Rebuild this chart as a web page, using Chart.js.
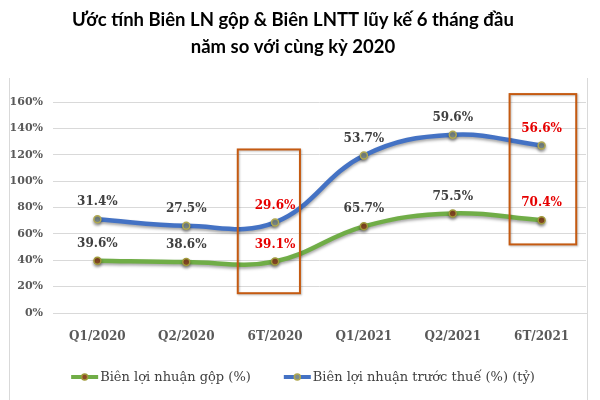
<!DOCTYPE html>
<html>
<head>
<meta charset="utf-8">
<script src="https://cdn.jsdelivr.net/npm/chart.js@4"></script>
<style>
  html, body { margin: 0; padding: 0; background: #fff; }
  #wrap { width: 600px; height: 400px; }
</style>
</head>
<body>
<div id="wrap"><canvas id="chart" width="600" height="400"></canvas></div>
<script>
  // --- Data ---
  const categories = ['Q1/2020', 'Q2/2020', '6T/2020', 'Q1/2021', 'Q2/2021', '6T/2021'];
  const grossMargin = [39.6, 38.6, 39.1, 65.7, 75.5, 70.4];     // Biên lợi nhuận gộp (%)
  const preTaxMargin = [31.4, 27.5, 29.6, 53.7, 59.6, 56.6];    // Biên lợi nhuận trước thuế (%)
  const yTicks = [0, 20, 40, 60, 80, 100, 120, 140, 160];

  // Highlighted "6T" columns get red labels and a box
  const highlight = categories.map(c => c.startsWith('6T'));
  // box ranges in data units: category index span and % span (stacked axis)
  const boxes = [
    { from: 1.58, to: 2.28, low: 15, high: 124 },
    { from: 4.64, to: 5.39, low: 52, high: 166 }
  ];

  const SERIF = "'DejaVu Serif', serif";

  // --- Plugins ---
  const framePlugin = {
    id: 'frame',
    beforeDraw(chart) {
      const ctx = chart.ctx;
      ctx.save();
      ctx.fillStyle = '#fff';
      ctx.fillRect(0, 0, chart.width, chart.height);
      ctx.strokeStyle = '#d9d9d9';
      ctx.lineWidth = 1;
      ctx.beginPath();
      ctx.moveTo(9.5, 78); ctx.lineTo(9.5, chart.height);
      ctx.moveTo(587.5, 78); ctx.lineTo(587.5, chart.height);
      ctx.stroke();
      ctx.restore();
    }
  };

  const shadowPlugin = {
    id: 'lineShadow',
    beforeDatasetDraw(chart) {
      const ctx = chart.ctx;
      ctx.save();
      ctx.shadowColor = 'rgba(0,0,0,0.35)';
      ctx.shadowBlur = 3;
      ctx.shadowOffsetY = 2;
    },
    afterDatasetDraw(chart) {
      chart.ctx.restore();
    }
  };

  const labelsPlugin = {
    id: 'valueLabels',
    afterDatasetsDraw(chart) {
      const ctx = chart.ctx;
      const x = chart.scales.x, y = chart.scales.y;

      // orange boxes
      ctx.save();
      ctx.strokeStyle = '#c55a11';
      ctx.lineWidth = 2;
      ctx.shadowColor = 'rgba(0,0,0,0.25)';
      ctx.shadowBlur = 2;
      ctx.shadowOffsetX = 1;
      ctx.shadowOffsetY = 1;
      boxes.forEach(b => {
        const l = x.getPixelForValue(b.from), r = x.getPixelForValue(b.to);
        const t = y.getPixelForValue(b.high), btm = y.getPixelForValue(b.low);
        ctx.strokeRect(l, t, r - l, btm - t);
      });
      ctx.restore();

      // value labels above points
      ctx.save();
      ctx.font = 'bold 12px ' + SERIF;
      ctx.textAlign = 'center';
      ctx.textBaseline = 'middle';
      chart.data.datasets.forEach((ds, di) => {
        const meta = chart.getDatasetMeta(di);
        meta.data.forEach((pt, i) => {
          ctx.fillStyle = highlight[i] ? '#e60000' : '#404040';
          ctx.fillText(ds.data[i].toFixed(1) + '%', pt.x, pt.y - 17);
        });
      });
      ctx.restore();
    }
  };

  // Legend drawn by hand: line-with-dot marker, text right next to it
  const legendPlugin = {
    id: 'lineLegend',
    afterDraw(chart) {
      const ctx = chart.ctx;
      const dsets = chart.data.datasets;
      const iconW = 27, gap = 2, itemGap = 33, cy = 377;
      ctx.save();
      ctx.font = '13px ' + SERIF;
      ctx.textBaseline = 'middle';
      const widths = dsets.map(ds => iconW + gap + ctx.measureText(ds.label).width);
      const total = widths.reduce((a, b) => a + b, 0) + itemGap * (dsets.length - 1);
      let cx = 303 - total / 2;
      dsets.forEach((ds, i) => {
        ctx.strokeStyle = ds.borderColor;
        ctx.lineWidth = 4;
        ctx.beginPath(); ctx.moveTo(cx, cy); ctx.lineTo(cx + iconW, cy); ctx.stroke();
        ctx.beginPath(); ctx.arc(cx + iconW / 2, cy, 3, 0, Math.PI * 2);
        ctx.fillStyle = ds.pointBackgroundColor; ctx.fill();
        ctx.lineWidth = 1.5; ctx.strokeStyle = ds.pointBorderColor; ctx.stroke();
        ctx.fillStyle = '#404040';
        ctx.fillText(ds.label, cx + iconW + gap, cy + 1);
        cx += widths[i] + itemGap;
      });
      ctx.restore();
    }
  };

  // --- Chart ---
  const ctx = document.getElementById('chart').getContext('2d');
  new Chart(ctx, {
    type: 'line',
    data: {
      labels: categories,
      datasets: [
        {
          label: 'Biên lợi nhuận gộp (%)',
          data: grossMargin,
          borderColor: '#70ad47',
          borderWidth: 4.5,
          tension: 0.4,
          pointRadius: 3.5,
          pointBackgroundColor: '#8a4a25',
          pointBorderColor: '#a09a3a',
          pointBorderWidth: 1.5
        },
        {
          label: 'Biên lợi nhuận trước thuế (%) (tỷ)',
          data: preTaxMargin,
          borderColor: '#4472c4',
          borderWidth: 4.5,
          tension: 0.4,
          pointRadius: 3.5,
          pointBackgroundColor: '#7d8c8c',
          pointBorderColor: '#b0a850',
          pointBorderWidth: 1.5
        }
      ]
    },
    options: {
      responsive: false,
      animation: false,
      layout: { padding: { left: 0, right: 14, top: 5, bottom: 57 } },
      plugins: {
        title: {
          display: true,
          text: ['Ước tính Biên LN gộp & Biên LNTT lũy kế 6 tháng đầu', 'năm so với cùng kỳ 2020'],
          color: '#000',
          font: { family: "Lato, sans-serif", size: 18.5, weight: 'bold', lineHeight: '27px' },
          padding: { top: 2, bottom: 41 }
        },
        legend: { display: false },
        tooltip: { enabled: false }
      },
      scales: {
        x: {
          offset: true,
          grid: { display: false },
          border: { color: '#d9d9d9' },
          afterFit(scale) { scale.height = 30; },
          ticks: { color: '#595959', font: { family: SERIF, size: 12, weight: 'bold' }, padding: 9 }
        },
        y: {
          stacked: true,
          min: 0,
          max: 160,
          afterBuildTicks(scale) { scale.ticks = yTicks.map(v => ({ value: v })); },
          afterFit(scale) { scale.width = 53; },
          grid: { color: '#d9d9d9', drawTicks: false },
          border: { display: false },
          ticks: {
            color: '#595959',
            font: { family: SERIF, size: 11, weight: 'bold' },
            padding: 10,
            callback: v => v + '%'
          }
        }
      }
    },
    plugins: [framePlugin, shadowPlugin, labelsPlugin, legendPlugin]
  });
</script>
</body>
</html>
